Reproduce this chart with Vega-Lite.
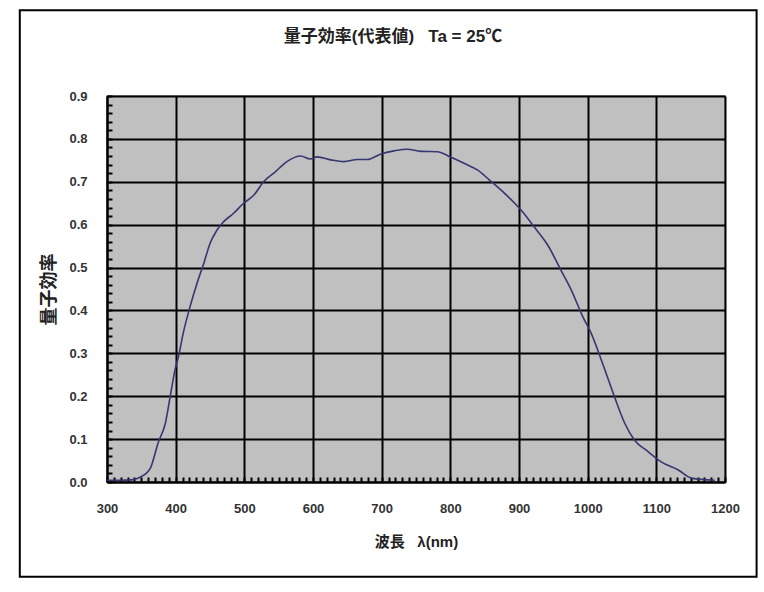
{
  "$schema": "https://vega.github.io/schema/vega-lite/v6.json",
  "width": 618,
  "height": 386,
  "autosize": {"type": "none"},
  "padding": {"left": 107, "top": 96, "right": 39, "bottom": 110},
  "background": "white",
  "title": {
    "text": "量子効率(代表値)\u00a0\u00a0\u00a0Ta = 25℃",
    "fontSize": 17,
    "fontWeight": "bold",
    "color": "#222222",
    "anchor": "middle",
    "frame": "group",
    "dx": -23,
    "offset": -37
  },
  "config": {
    "font": "Liberation Sans Narrow, Liberation Sans, Noto Sans CJK JP, sans-serif",
    "view": {"fill": "#c0c0c0", "stroke": "#8a8a8a", "strokeWidth": 1.5},
    "axis": {
      "labelFontSize": 13,
      "labelFontWeight": "bold",
      "labelColor": "#333333",
      "titleFontSize": 15,
      "titleFontWeight": "bold",
      "titleColor": "#222222",
      "domainColor": "black",
      "domainWidth": 2,
      "tickColor": "black",
      "tickWidth": 2,
      "tickSize": -5,
      "tickCount": 200,
      "gridWidth": 2,
      "labelOverlap": false,
      "labelBound": false,
      "labelFlush": false
    }
  },
  "layer": [
    {
      "data": {
        "values": [
          {"wl": 300, "qe": 0.004}, {"wl": 320, "qe": 0.004}, {"wl": 336, "qe": 0.005},
          {"wl": 348, "qe": 0.011}, {"wl": 363, "qe": 0.032}, {"wl": 375, "qe": 0.094},
          {"wl": 385, "qe": 0.137}, {"wl": 392, "qe": 0.199}, {"wl": 399, "qe": 0.261},
          {"wl": 404, "qe": 0.292}, {"wl": 411, "qe": 0.347}, {"wl": 421, "qe": 0.409},
          {"wl": 431, "qe": 0.463}, {"wl": 441, "qe": 0.510}, {"wl": 450, "qe": 0.556},
          {"wl": 460, "qe": 0.587}, {"wl": 470, "qe": 0.607}, {"wl": 484, "qe": 0.626},
          {"wl": 499, "qe": 0.650}, {"wl": 514, "qe": 0.669}, {"wl": 528, "qe": 0.700},
          {"wl": 545, "qe": 0.723}, {"wl": 562, "qe": 0.747}, {"wl": 582, "qe": 0.760},
          {"wl": 596, "qe": 0.753}, {"wl": 606, "qe": 0.758}, {"wl": 626, "qe": 0.751},
          {"wl": 645, "qe": 0.747}, {"wl": 665, "qe": 0.752}, {"wl": 679, "qe": 0.752},
          {"wl": 699, "qe": 0.765}, {"wl": 718, "qe": 0.772}, {"wl": 737, "qe": 0.776},
          {"wl": 757, "qe": 0.771}, {"wl": 781, "qe": 0.770}, {"wl": 801, "qe": 0.757},
          {"wl": 820, "qe": 0.743}, {"wl": 840, "qe": 0.727}, {"wl": 857, "qe": 0.704},
          {"wl": 879, "qe": 0.673}, {"wl": 903, "qe": 0.634}, {"wl": 922, "qe": 0.595},
          {"wl": 942, "qe": 0.552}, {"wl": 961, "qe": 0.494}, {"wl": 976, "qe": 0.448},
          {"wl": 993, "qe": 0.385}, {"wl": 1005, "qe": 0.347}, {"wl": 1020, "qe": 0.284},
          {"wl": 1039, "qe": 0.199}, {"wl": 1054, "qe": 0.137}, {"wl": 1068, "qe": 0.098},
          {"wl": 1088, "qe": 0.071}, {"wl": 1107, "qe": 0.047}, {"wl": 1132, "qe": 0.028},
          {"wl": 1151, "qe": 0.009}, {"wl": 1185, "qe": 0.004}
        ]
      },
      "mark": {"type": "line", "color": "#363672", "strokeWidth": 1.6, "interpolate": "monotone"},
      "encoding": {
        "x": {
          "field": "wl",
          "type": "quantitative",
          "scale": {"domain": [300, 1200], "nice": false, "zero": false},
          "axis": {
            "title": "波長\u00a0\u00a0\u00a0λ(nm)",
            "titlePadding": 19,
            "labelPadding": 25,
            "values": [300,310,320,330,340,350,360,370,380,390,400,410,420,430,440,450,460,470,480,490,500,510,520,530,540,550,560,570,580,590,600,610,620,630,640,650,660,670,680,690,700,710,720,730,740,750,760,770,780,790,800,810,820,830,840,850,860,870,880,890,900,910,920,930,940,950,960,970,980,990,1000,1010,1020,1030,1040,1050,1060,1070,1080,1090,1100,1110,1120,1130,1140,1150,1160,1170,1180,1190,1200],
            "labelExpr": "datum.value % 100 == 0 ? datum.value : ''",
            "grid": true,
            "gridColor": {"condition": {"test": "datum.value % 100 == 0", "value": "black"}, "value": "transparent"}
          }
        },
        "y": {
          "field": "qe",
          "type": "quantitative",
          "scale": {"domain": [0, 0.9], "nice": false},
          "axis": {
            "title": "量子効率",
            "titleFontSize": 18,
            "titlePadding": 10,
            "labelPadding": 25,
            "values": [0,0.02,0.04,0.06,0.08,0.1,0.12,0.14,0.16,0.18,0.2,0.22,0.24,0.26,0.28,0.3,0.32,0.34,0.36,0.38,0.4,0.42,0.44,0.46,0.48,0.5,0.52,0.54,0.56,0.58,0.6,0.62,0.64,0.66,0.68,0.7,0.72,0.74,0.76,0.78,0.8,0.82,0.84,0.86,0.88,0.9],
            "labelExpr": "abs(datum.value * 10 - round(datum.value * 10)) < 0.001 ? format(datum.value, '.1f') : ''",
            "grid": true,
            "gridColor": {"condition": {"test": "abs(datum.value * 10 - round(datum.value * 10)) < 0.001", "value": "black"}, "value": "transparent"}
          }
        }
      }
    },
    {
      "data": {"values": [{}]},
      "mark": {"type": "rect", "fill": null, "stroke": "black", "strokeWidth": 2, "clip": false},
      "encoding": {
        "x": {"datum": 173},
        "x2": {"datum": 1246},
        "y": {"datum": 1.1},
        "y2": {"datum": -0.221}
      }
    }
  ]
}
